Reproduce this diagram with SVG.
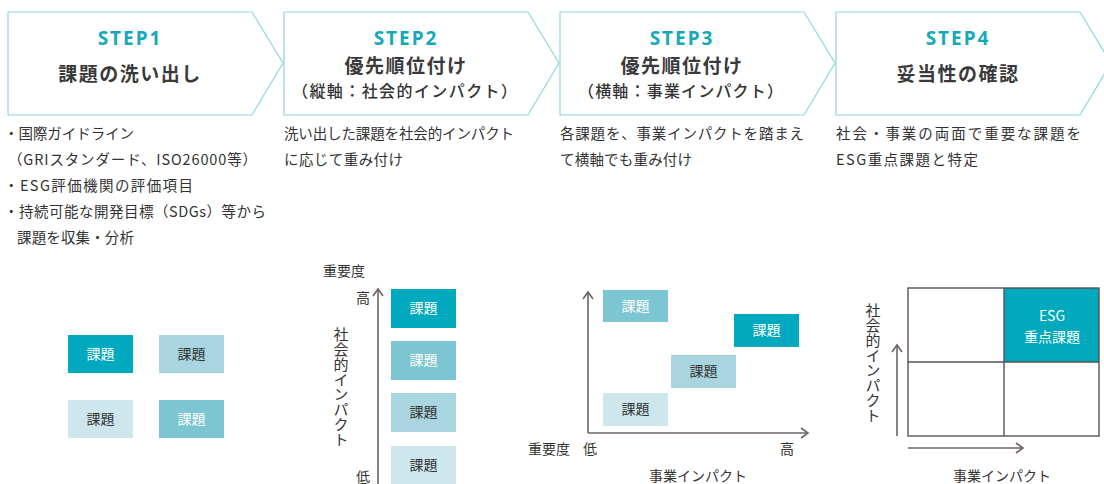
<svg xmlns="http://www.w3.org/2000/svg" width="1104" height="484" viewBox="0 0 1104 484">
<defs>
<style>
text{font-family:"Noto Sans CJK JP","Noto Sans",sans-serif;fill:#333;}
.head{fill:#fff;stroke:#8fd6e2;stroke-width:1.2;}
.step{font-family:"Noto Sans","Noto Sans CJK JP",sans-serif;font-weight:700;font-size:19px;fill:#15a9bb;letter-spacing:2px;text-anchor:middle;}
.title{font-weight:700;font-size:19px;letter-spacing:1.5px;text-anchor:middle;fill:#3a3a3a;}
.sub{font-size:16px;font-weight:500;}
.desc{font-size:14.5px;}
.lbl{font-size:14px;text-anchor:middle;}
.lblw{font-size:14px;text-anchor:middle;fill:#fff;}
.ax{fill:none;stroke:#6e6462;stroke-width:1.6;}
.grid{fill:none;stroke:#555;stroke-width:1.4;}
.c1{fill:#00a9bd;}
.c2{fill:#7cc6d3;}
.c3{fill:#a8d5df;}
.c4{fill:#cde7ed;}
.axt{font-size:14px;}
.vt{font-size:15px;writing-mode:vertical-rl;glyph-orientation-vertical:0;}
</style>
</defs>

<g id="step1">
<polygon class="head" points="8,12 252,12 283,63 252,115 8,115"/>
<text class="step" x="130" y="45">STEP1</text>
<text class="title" x="130" y="81">課題の洗い出し</text>
<text class="desc" x="4" y="139" textLength="130">・国際ガイドライン</text>
<text class="desc" x="8" y="165" textLength="249">（GRIスタンダード、ISO26000等）</text>
<text class="desc" x="4" y="191" textLength="189">・ESG評価機関の評価項目</text>
<text class="desc" x="4" y="217" textLength="262">・持続可能な開発目標（SDGs）等から</text>
<text class="desc" x="17" y="243" textLength="117">課題を収集・分析</text>
</g>

<g id="step2">
<polygon class="head" points="284,12 528,12 559,63 528,115 284,115"/>
<text class="step" x="406" y="45">STEP2</text>
<text class="title" x="406" y="73">優先順位付け</text>
<text class="sub" x="292" y="97" textLength="225">（縦軸：社会的インパクト）</text>
<text class="desc" x="284" y="139" textLength="230">洗い出した課題を社会的インパクト</text>
<text class="desc" x="284" y="165" textLength="119">に応じて重み付け</text>
</g>

<g id="step3">
<polygon class="head" points="560,12 804,12 835,63 804,115 560,115"/>
<text class="step" x="682" y="45">STEP3</text>
<text class="title" x="682" y="73">優先順位付け</text>
<text class="sub" x="578" y="97" textLength="205">（横軸：事業インパクト）</text>
<text class="desc" x="560" y="139" textLength="244">各課題を、事業インパクトを踏まえ</text>
<text class="desc" x="560" y="165" textLength="132">て横軸でも重み付け</text>
</g>

<g id="step4">
<polygon class="head" points="836,12 1080,12 1111,63 1080,115 836,115"/>
<text class="step" x="958" y="45">STEP4</text>
<text class="title" x="958" y="81">妥当性の確認</text>
<text class="desc" x="836" y="139" textLength="245">社会・事業の両面で重要な課題を</text>
<text class="desc" x="836" y="165" textLength="142">ESG重点課題と特定</text>
</g>

<g id="step1-issues">
<rect class="c1" x="68" y="335" width="65" height="38"/>
<text class="lblw" x="100.5" y="359">課題</text>
<rect class="c3" x="159" y="335" width="65" height="38"/>
<text class="lbl" x="191.5" y="359">課題</text>
<rect class="c4" x="68" y="400" width="65" height="38"/>
<text class="lbl" x="100.5" y="424">課題</text>
<rect class="c2" x="159" y="400" width="65" height="38"/>
<text class="lblw" x="191.5" y="424">課題</text>
</g>

<g id="step2-chart">
<text class="axt" x="323" y="276">重要度</text>
<text class="axt" x="356" y="303">高</text>
<text class="axt" x="356" y="482">低</text>
<text class="vt" x="341" y="327">社会的インパクト</text>
<rect class="c1" x="391" y="289" width="65" height="39"/>
<text class="lblw" x="423.5" y="313">課題</text>
<rect class="c2" x="391" y="341" width="65" height="39"/>
<text class="lblw" x="423.5" y="365">課題</text>
<rect class="c3" x="391" y="393" width="65" height="39"/>
<text class="lbl" x="423.5" y="417">課題</text>
<rect class="c4" x="391" y="446" width="65" height="39"/>
<text class="lbl" x="423.5" y="470">課題</text>
</g>

<g id="step3-chart">
<rect class="c2" x="603" y="290" width="65" height="32"/>
<text class="lblw" x="635.5" y="311">課題</text>
<rect class="c1" x="734" y="314" width="65" height="33"/>
<text class="lblw" x="766.5" y="335">課題</text>
<rect class="c3" x="671" y="355" width="65" height="33"/>
<text class="lbl" x="703.5" y="376">課題</text>
<rect class="c4" x="603" y="393" width="65" height="33"/>
<text class="lbl" x="635.5" y="414">課題</text>
<text class="axt" x="528" y="454">重要度</text>
<text class="axt" x="583" y="454">低</text>
<text class="axt" x="780" y="454">高</text>
<text class="axt" x="698" y="481" text-anchor="middle">事業インパクト</text>
</g>

<g id="step4-matrix">
<rect class="c1" x="1004" y="288" width="95" height="74"/>
<rect class="grid" x="908" y="288" width="191" height="148"/>
<line class="grid" x1="1004" y1="288" x2="1004" y2="436"/>
<line class="grid" x1="908" y1="362" x2="1099" y2="362"/>
<text class="lblw" x="1052" y="321">ESG</text>
<text class="lblw" x="1052" y="342">重点課題</text>
<text class="vt" x="873" y="303">社会的インパクト</text>
<text class="axt" x="1002" y="481" text-anchor="middle">事業インパクト</text>
</g>

<g id="connectors">
<line class="ax" x1="378" y1="290" x2="378" y2="484"/>
<polyline class="ax" points="373,296 378,289 383,296"/>
<line class="ax" x1="588" y1="293" x2="588" y2="433"/>
<polyline class="ax" points="583,299 588,292 593,299"/>
<line class="ax" x1="588" y1="433" x2="807" y2="433"/>
<polyline class="ax" points="801,428 808,433 801,438"/>
<line class="ax" x1="897" y1="346" x2="897" y2="436"/>
<polyline class="ax" points="892,352 897,345 902,352"/>
<line class="ax" x1="908" y1="448" x2="1022" y2="448"/>
<polyline class="ax" points="1016,443 1023,448 1016,453"/>
</g>
</svg>
